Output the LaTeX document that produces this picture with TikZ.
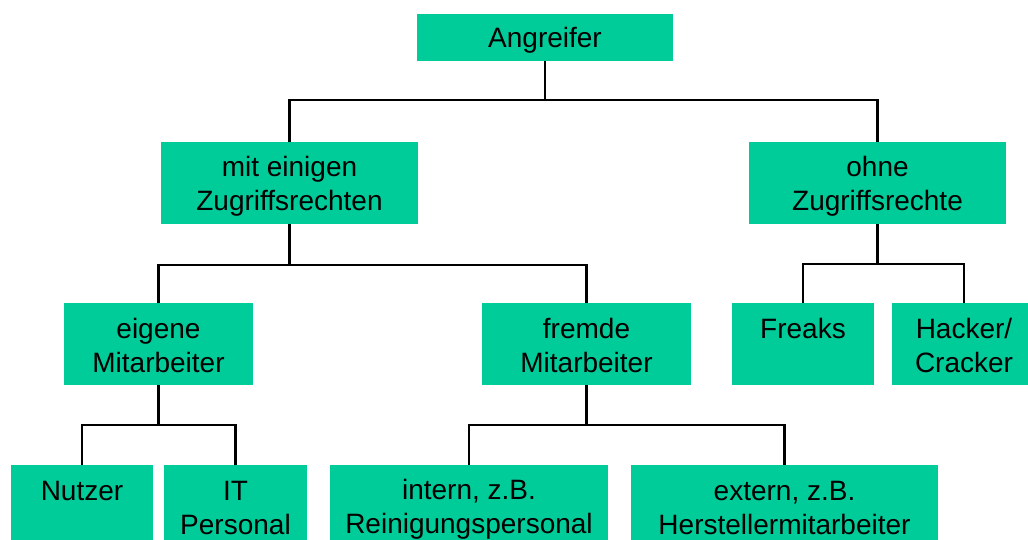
\documentclass[tikz,border=0pt]{standalone}
\usepackage{fontspec}
\setmainfont{Liberation Sans}
\definecolor{boxgreen}{RGB}{0,204,153}
% line strut: keeps every text line the same height so boxes centre alike
\newcommand\lnstrut{\rule[-4pt]{0pt}{30pt}}
\begin{document}
\begin{tikzpicture}[x=1pt,y=-1pt,
  box/.style={fill=boxgreen, inner sep=0pt, align=center,
    font=\fontsize{28}{34}\selectfont},
  tall/.style={box, minimum height=82pt},
  link/.style={line width=2.8pt, black, line join=miter}]
\useasboundingbox (0,0) rectangle (1028,540);
\clip (0,0) rectangle (1028,540);

% level 0
\node[box, minimum width=256pt, minimum height=47pt] (A) at (545,37.5) {Angreifer\lnstrut};

% level 1
\node[tall, minimum width=257pt] (M) at (289.5,183) {mit einigen\lnstrut\\Zugriffsrechten\lnstrut};
\node[tall, minimum width=257pt] (O) at (877.5,183) {ohne\lnstrut\\Zugriffsrechte\lnstrut};

% level 2
\node[tall, minimum width=189pt] (E) at (158.5,344) {eigene\lnstrut\\Mitarbeiter\lnstrut};
\node[tall, minimum width=209pt] (F) at (586.5,344) {fremde\lnstrut\\Mitarbeiter\lnstrut};
\node[tall, minimum width=142pt] (Fr) at (803,344) {Freaks\lnstrut\\\lnstrut};
\node[tall, minimum width=144pt] (H) at (964,344) {Hacker/\lnstrut\\Cracker\lnstrut};

% level 3
\node[tall, minimum width=142pt] (N) at (82,506) {Nutzer\lnstrut\\\lnstrut};
\node[tall, minimum width=143pt] (IT) at (235.5,506) {IT\lnstrut\\Personal\lnstrut};
\node[tall, minimum width=278pt] (I) at (469,506) {intern, z.B.\lnstrut\\Reinigungspersonal\lnstrut};
\node[tall, minimum width=307pt] (X) at (784.5,506) {extern, z.B.\lnstrut\\Herstellermitarbeiter\lnstrut};

% bus levels
\coordinate (b0) at (0,100);
\coordinate (b1) at (0,265);
\coordinate (b2) at (0,264);
\coordinate (b3) at (0,425);

% connectors
\draw[link] (A.south) -- (A.south |- b0);
\draw[link] (M.north) -- (M.north |- b0) -- (O.north |- b0) -- (O.north);

\draw[link] (M.south) -- (M.south |- b1);
\draw[link] (E.north) -- (E.north |- b1) -- (F.north |- b1) -- (F.north);

\draw[link] (O.south) -- (O.south |- b2);
\draw[link] (Fr.north) -- (Fr.north |- b2) -- (H.north |- b2) -- (H.north);

\draw[link] (E.south) -- (E.south |- b3);
\draw[link] (N.north) -- (N.north |- b3) -- (IT.north |- b3) -- (IT.north);

\draw[link] (F.south) -- (F.south |- b3);
\draw[link] (I.north) -- (I.north |- b3) -- (X.north |- b3) -- (X.north);
\end{tikzpicture}
\end{document}
